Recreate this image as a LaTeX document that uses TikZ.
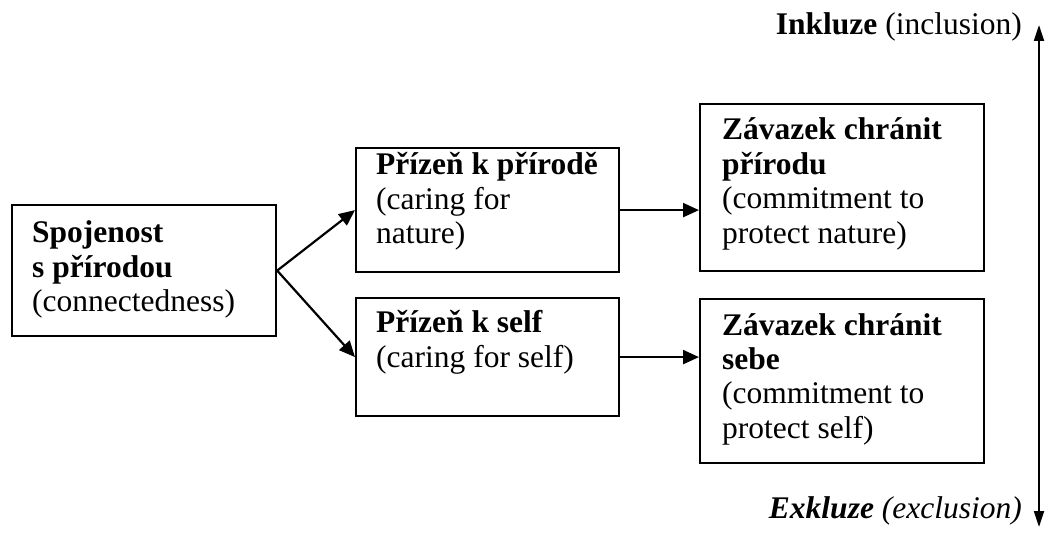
\documentclass[tikz,border=0pt]{standalone}
\usepackage{fontspec}
\setmainfont{Liberation Serif}
\usetikzlibrary{arrows.meta}

\begin{document}
\begin{tikzpicture}[x=1pt, y=-1pt,
  box/.style={draw, line width=2.2pt, anchor=north west, inner sep=0pt},
  label/.style={anchor=base west, inner sep=0pt,
    font=\fontsize{31.5}{34.5}\selectfont},
  side/.style={anchor=base east, inner sep=0pt,
    font=\fontsize{31.5}{34.5}\selectfont},
  link/.style={line width=2.2pt, -{Triangle[length=16pt,width=14pt]}},
  axis/.style={line width=2.2pt, {Triangle[length=16pt,width=10pt]}-{Triangle[length=16pt,width=10pt]}}
]
\useasboundingbox (0,0) rectangle (1045,540);

% boxes
\node[box, minimum width=264pt, minimum height=131pt] (A) at (11,204) {};
\node[box, minimum width=263pt, minimum height=124pt] (B) at (355,147) {};
\node[box, minimum width=263pt, minimum height=118pt] (D) at (355,297) {};
\node[box, minimum width=284pt, minimum height=167pt] (C) at (699,103) {};
\node[box, minimum width=284pt, minimum height=164pt] (E) at (699,298) {};

% box texts
\node[label] (tA) at (32,243) {\begin{tabular}[t]{@{}l@{}}\textbf{Spojenost}\\\textbf{s přírodou}\\(connectedness)\end{tabular}};
\node[label] (tB) at (376,175) {\begin{tabular}[t]{@{}l@{}}\textbf{Přízeň k přírodě}\\(caring for\\nature)\end{tabular}};
\node[label] (tD) at (376,333) {\begin{tabular}[t]{@{}l@{}}\textbf{Přízeň k self}\\(caring for self)\end{tabular}};
\node[label] (tC) at (722,140) {\begin{tabular}[t]{@{}l@{}}\textbf{Závazek chránit}\\\textbf{přírodu}\\(commitment to\\protect nature)\end{tabular}};
\node[label] (tE) at (722,335) {\begin{tabular}[t]{@{}l@{}}\textbf{Závazek chránit}\\\textbf{sebe}\\(commitment to\\protect self)\end{tabular}};

% connectors
\draw[link] (A.east) -- (B.west);
\draw[link] (A.east) -- (D.west);
\draw[link] (B.east) -- (B.east -| C.west);
\draw[link] (D.east) -- (D.east -| E.west);

% inclusion / exclusion scale
\coordinate (top) at (1039,25);
\coordinate (bottom) at (1039,527);
\draw[axis] (top) -- (bottom);
\node[side] (inc) at (1022,35) {\textbf{Inkluze} (inclusion)};
\node[side] (exc) at (1022,518) {\textbf{\textit{Exkluze}} \textit{(exclusion)}};
\end{tikzpicture}
\end{document}
